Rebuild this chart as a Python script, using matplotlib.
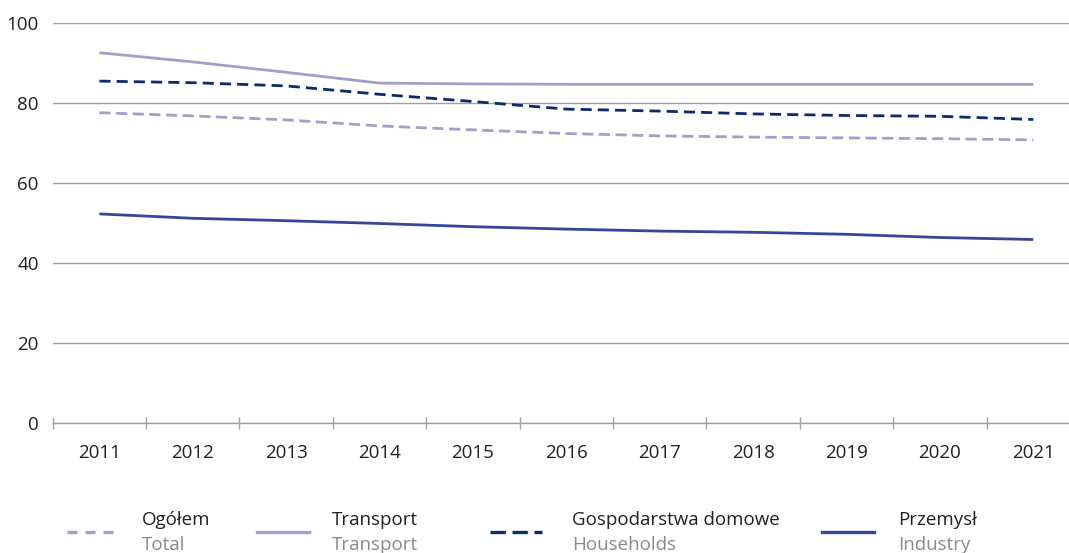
"""Energy intensity index by sector, 2011-2021 (PL / EN labels)."""

import matplotlib

matplotlib.use("Agg")
import matplotlib.pyplot as plt
from matplotlib.lines import Line2D
import numpy as np

plt.rcParams["font.family"] = ["Open Sans", "DejaVu Sans"]

# --- data -----------------------------------------------------------------
years = ["2011", "2012", "2013", "2014", "2015", "2016",
         "2017", "2018", "2019", "2020", "2021"]
total = [77.5, 76.7, 75.7, 74.2, 73.2, 72.3, 71.7, 71.4, 71.2, 71.0, 70.7]
transport = [92.5, 90.2, 87.6, 84.9, 84.7, 84.6, 84.6, 84.6, 84.6, 84.6, 84.6]
households = [85.4, 85.0, 84.2, 82.1, 80.3, 78.4, 77.9, 77.2, 76.8, 76.6, 75.8]
industry = [52.2, 51.1, 50.5, 49.8, 49.0, 48.4, 47.9, 47.6, 47.1, 46.3, 45.8]

names_pl = ["Ogółem", "Transport", "Gospodarstwa domowe", "Przemysł"]
names_en = ["Total", "Transport", "Households", "Industry"]

# --- style ----------------------------------------------------------------
LIGHT = "#a29fcb"
NAVY = "#0b2a6f"
BLUE = "#35459a"
GRID = "#a0a0a0"
TEXT = "#231f20"
SUB = "#8a8a8a"
FS = 13.5

series = [
    (total, LIGHT, (4.0, 2.0)),
    (transport, LIGHT, None),
    (households, NAVY, (4.0, 2.2)),
    (industry, BLUE, None),
]

W, H = 1069, 553
fig = plt.figure(figsize=(W / 100, H / 100), dpi=100)
# axes deliberately runs a little past the right edge like the original
ax = fig.add_axes([52.7 / W, 1 - 422.7 / H, (1080 - 52.7) / W, 400 / H])

x = np.arange(len(years))
for vals, color, dash in series:
    if dash is None:
        ax.plot(x, vals, color=color, lw=2.0, solid_capstyle="butt")
    else:
        ax.plot(x, vals, color=color, lw=2.0, dashes=dash)

ax.set_xlim(-0.5, len(years) - 0.5)
ax.set_ylim(0, 100)
ax.set_yticks(np.arange(0, 101, 20))
ax.yaxis.grid(True, color=GRID, lw=1.0)
ax.set_axisbelow(True)
ax.tick_params(axis="y", length=0, pad=10, labelsize=FS, labelcolor=TEXT)

# category boundaries get the tick marks, labels sit on the centres
ax.set_xticks(np.arange(-0.5, len(years), 1.0))
ax.set_xticklabels([])
ax.tick_params(axis="x", which="major", direction="inout", length=9,
               color=GRID, width=1.0)
ax.set_xticks(x, minor=True)
ax.set_xticklabels(years, minor=True)
ax.tick_params(axis="x", which="minor", length=0, pad=15, labelsize=FS,
               labelcolor=TEXT)

for side in ["top", "right", "left"]:
    ax.spines[side].set_visible(False)
ax.spines["bottom"].set_color(GRID)
ax.spines["bottom"].set_linewidth(1.0)

# --- legend (two-line labels, drawn by hand) -----------------------------
handle_x = [67, 257, 490, 822]
text_x = [142, 332, 572, 898]
for i, (vals, color, dash) in enumerate(series):
    x0 = handle_x[i] / W
    x1 = (handle_x[i] + 52) / W
    yy = 1 - 532 / H
    ln = Line2D([x0, x1], [yy, yy], transform=fig.transFigure,
                color=color, lw=2.4)
    if dash is not None:
        ln.set_dashes((3.0, 2.4) if i == 0 else (4.6, 2.0))
    fig.add_artist(ln)
    fig.text(text_x[i] / W, 1 - 520 / H, names_pl[i], fontsize=FS,
             color=TEXT, va="center", ha="left")
    fig.text(text_x[i] / W, 1 - 545 / H, names_en[i], fontsize=FS,
             color=SUB, va="center", ha="left")

fig.savefig("out.png", dpi=100)
